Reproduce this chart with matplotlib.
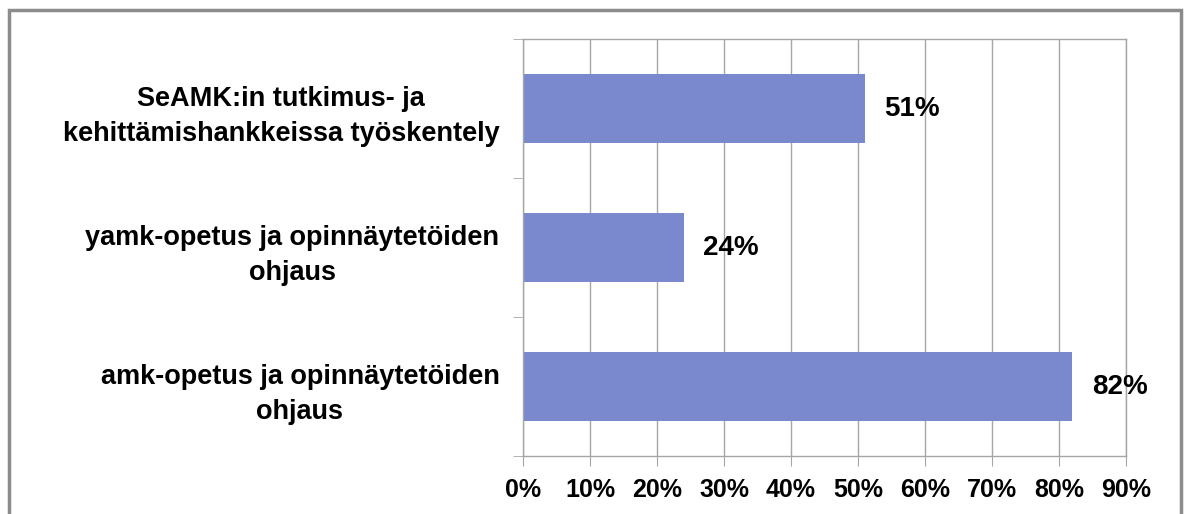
import matplotlib
matplotlib.use('Agg')
import matplotlib.pyplot as plt
from matplotlib.patches import Rectangle
from matplotlib.ticker import FixedLocator

plt.rcParams['font.family'] = ['Liberation Sans', 'DejaVu Sans']

categories = [
    'SeAMK:in tutkimus- ja\nkehittämishankkeissa työskentely',
    'yamk-opetus ja opinnäytetöiden\nohjaus',
    'amk-opetus ja opinnäytetöiden\nohjaus',
]
values = [51, 24, 82]
x_ticks = [0, 10, 20, 30, 40, 50, 60, 70, 80, 90]

bar_color = '#7a89cd'
grid_color = '#a6a6a6'

fig = plt.figure(figsize=(11.86, 5.14), dpi=100)
ax = fig.add_axes([523 / 1186, 58 / 514, 603 / 1186, 417 / 514])

# gray frame round the whole chart
fig.patches.append(Rectangle((9 / 1186, -0.05), 1172 / 1186, 1.0 - 10 / 514 + 0.05,
                             transform=fig.transFigure, fill=False,
                             edgecolor='#8c8c8c', linewidth=2.5))

y = list(range(len(categories)))
ax.barh(y, values, height=0.5, color=bar_color, zorder=2)

for yi, v in zip(y, values):
    ax.annotate(f'{v}%', xy=(v, yi), xytext=(14, 0), textcoords='offset points',
                va='center', ha='left', fontsize=20, fontweight='bold', zorder=3)

ax.set_xlim(0, 90)
ax.set_ylim(len(categories) - 0.5, -0.5)

ax.set_xticks(x_ticks)
ax.set_xticklabels([f'{t}%' for t in x_ticks], fontsize=18, fontweight='bold')
ax.xaxis.grid(True, color=grid_color, linewidth=1, zorder=0)
ax.tick_params(axis='x', length=7, color=grid_color, pad=9)

ax.set_yticks(y)
ax.set_yticklabels(categories, fontsize=19.5, fontweight='bold',
                   multialignment='center', linespacing=1.45)
ax.tick_params(axis='y', which='major', length=0, pad=17)
ax.yaxis.set_minor_locator(FixedLocator([-0.5, 0.5, 1.5, 2.5]))
ax.tick_params(axis='y', which='minor', length=7, color=grid_color)

for s in ax.spines.values():
    s.set_color(grid_color)
    s.set_linewidth(1)

fig.savefig('out.png', dpi=100)
